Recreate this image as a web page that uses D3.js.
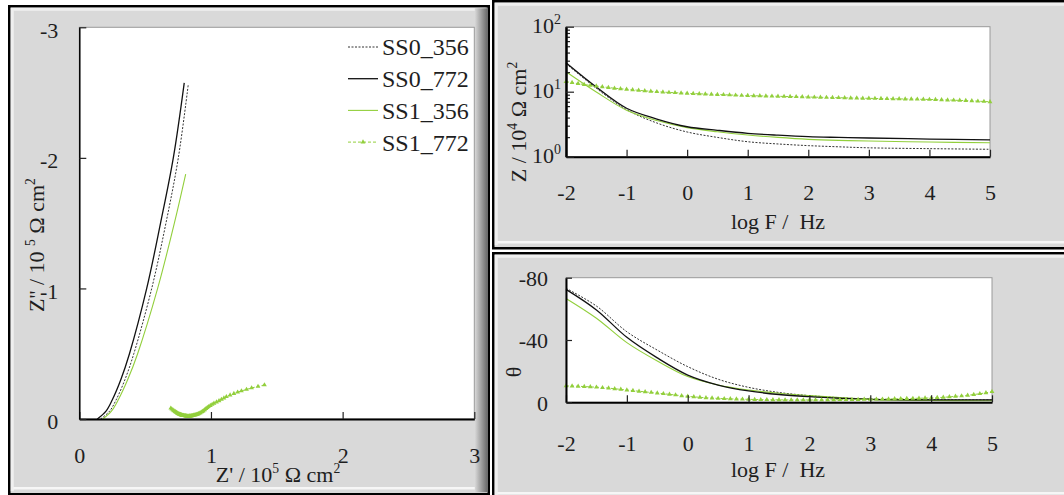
<!DOCTYPE html>
<html><head><meta charset="utf-8">
<script src="https://cdn.jsdelivr.net/npm/d3@7"></script>
<style>
body{margin:0;background:#fff}
svg{display:block;font-family:"Liberation Serif","Times New Roman",serif}
text{font-family:"Liberation Serif","Times New Roman",serif;fill:#1e1e1e}
</style>
</head><body>
<svg id="chart" width="1064" height="495"></svg>
<script>
// ---- data ----
const seriesNames = ["SS0_356", "SS0_772", "SS1_356", "SS1_772"];

// Nyquist data: [Z', Z''] in 1e5 Ω cm²
const nyqSS0_356 = [[0.162,0],[0.23,-0.06],[0.279,-0.145],[0.346,-0.3],[0.414,-0.5],[0.55,-1.0],[0.658,-1.5],[0.752,-2.0],[0.828,-2.565]];
const nyqSS0_772 = [[0.137,0],[0.203,-0.06],[0.25,-0.145],[0.315,-0.3],[0.381,-0.5],[0.512,-1.0],[0.617,-1.5],[0.714,-2.0],[0.797,-2.575]];
const nyqSS1_356 = [[0.178,0],[0.244,-0.06],[0.295,-0.145],[0.367,-0.3],[0.443,-0.5],[0.595,-1.0],[0.722,-1.5],[0.808,-1.876]];

// Bode data, coarse frequency grid (log F / Hz)
const logF = [-2,-1.5,-1,-0.5,0,0.5,1,1.5,2,2.5,3,4,5];
const zSS0_356 = [27.0,11.3,5.3,3.3,2.4,1.98,1.70,1.57,1.48,1.42,1.37,1.33,1.30];
const zSS0_772 = [27.9,11.8,5.56,3.8,2.89,2.55,2.29,2.14,2.03,1.98,1.94,1.87,1.81];
const zSS1_356 = [20.3,9.9,5.2,3.6,2.8,2.42,2.16,1.98,1.85,1.78,1.74,1.68,1.64];
const thSS0_356 = [-73.2,-61.8,-45.3,-33.5,-22.9,-14.8,-9.6,-6.3,-4.3,-3,-2.1,-1.6,-1.5];
const thSS0_772 = [-72.5,-59.3,-41.7,-28.5,-17.5,-11.1,-7.3,-5,-3.6,-2.6,-1.9,-1.6,-1.5];
const thSS1_356 = [-66.7,-54.0,-38.3,-26.5,-16.5,-11.1,-7.9,-5.8,-4.3,-3,-1.9,-1.2,-1.0];

// SS1_772 measured on a finer grid (one point per 0.1 decade)
const logF_SS1_772 = [-2.0,-1.9,-1.8,-1.7,-1.6,-1.5,-1.4,-1.3,-1.2,-1.1,-1.0,-0.9,-0.8,-0.7,-0.6,-0.5,-0.4,-0.3,-0.2,-0.1,
  0.0,0.1,0.2,0.3,0.4,0.5,0.6,0.7,0.8,0.9,1.0,1.1,1.2,1.3,1.4,1.5,1.6,1.7,1.8,1.9,
  2.0,2.1,2.2,2.3,2.4,2.5,2.6,2.7,2.8,2.9,3.0,3.1,3.2,3.3,3.4,3.5,3.6,3.7,3.8,3.9,
  4.0,4.1,4.2,4.3,4.4,4.5,4.6,4.7,4.8,4.9,5.0];
const zSS1_772 = [14.3,13.8,13.3,12.9,12.5,12.2,11.9,11.6,11.3,11.1,10.9,10.7,10.5,10.3,10.15,10.0,9.85,9.75,9.65,9.55,
  9.44,9.36,9.28,9.2,9.12,9.05,8.98,8.91,8.84,8.77,8.7,8.66,8.62,8.58,8.54,8.5,8.45,8.41,8.37,8.33,
  8.28,8.24,8.2,8.16,8.12,8.08,8.04,8.0,7.96,7.93,7.9,7.87,7.84,7.81,7.78,7.75,7.72,7.69,7.66,7.63,
  7.6,7.55,7.5,7.45,7.4,7.35,7.3,7.22,7.15,7.07,7.0];
const thSS1_772 = [-10.5,-10.4,-10.3,-10.1,-9.9,-9.7,-9.4,-9.1,-8.7,-8.3,-7.9,-7.5,-7.1,-6.7,-6.3,-5.9,-5.5,-5.1,-4.7,-4.2,
  -3.8,-3.5,-3.2,-2.9,-2.7,-2.5,-2.3,-2.2,-2.1,-2.0,-1.9,-1.8,-1.7,-1.7,-1.6,-1.6,-1.5,-1.5,-1.5,-1.5,
  -1.5,-1.5,-1.5,-1.6,-1.6,-1.7,-1.7,-1.8,-1.8,-1.9,-1.9,-2.0,-2.0,-2.1,-2.2,-2.3,-2.4,-2.5,-2.6,-2.7,
  -2.8,-3.0,-3.2,-3.5,-3.8,-4.1,-4.5,-5.0,-5.5,-6.1,-6.8];

// axis ticks
const nyqTicks = [0, 1, 2, 3];
const nyqYTicks = [0, -1, -2, -3];
const freqTicks = [-2, -1, 0, 1, 2, 3, 4, 5];
const zDecades = [0, 1, 2];
const thetaTicks = [0, -40, -80];

// ---- styles ----
const GREEN = "#92cf3c";
const FONT = '"Liberation Serif","Times New Roman",serif';
const style = {
  "SS0_356": {stroke: "#333", width: 1, dash: "2,1.5", marker: false},
  "SS0_772": {stroke: "#111", width: 1.3, dash: null, marker: false},
  "SS1_356": {stroke: GREEN, width: 1.1, dash: null, marker: false},
  "SS1_772": {stroke: GREEN, width: 1, dash: "3,2", marker: true}
};
const plain = d => String(d);   // "-3", "0", "1" ...

const svg = d3.select("#chart");
const defs = svg.append("defs");
const shade = defs.append("linearGradient").attr("id", "edgeShade").attr("x1", 0).attr("x2", 1);
shade.append("stop").attr("offset", 0).attr("stop-color", "#d9d9d9");
shade.append("stop").attr("offset", 1).attr("stop-color", "#6a6a6a");

// raised grey panel with dark frame
function panel(x, y, w, h, rightShade) {
  const g = svg.append("g");
  g.append("rect").attr("x", x).attr("y", y).attr("width", w).attr("height", h)
    .attr("fill", "#d9d9d9").attr("stroke", "#000").attr("stroke-width", 2.5);
  g.append("path").attr("d", `M${x+3},${y+h-3} V${y+3} H${x+w-3}`)
    .attr("fill", "none").attr("stroke", "#efefef").attr("stroke-width", 3);
  g.append("line").attr("x1", x+4).attr("x2", x+w-4).attr("y1", y+h-6).attr("y2", y+h-6)
    .attr("stroke", "#f6f6f6").attr("stroke-width", 2.5);
  if (rightShade) {
    g.append("rect").attr("x", x+w-14).attr("y", y+2).attr("width", 12.5).attr("height", h-4)
      .attr("fill", "url(#edgeShade)");
  }
}
panel(9.25, 6.25, 479.5, 488, true);
panel(493.25, 1.25, 575, 247, false);
panel(493.25, 253.25, 575, 246, false);

function plotFrame(x0, x1, y0, y1) {
  svg.append("rect").attr("x", x0).attr("y", y0).attr("width", x1 - x0).attr("height", y1 - y0)
    .attr("fill", "#fff").attr("stroke", "#9a9a9a").attr("stroke-width", 1);
}

// text with superscripts: parts = [[string, isSup], ...]
function rich(parent, x, y, parts, size, rotate) {
  const t = parent.append("text").attr("font-size", size).attr("text-anchor", "middle")
    .attr("font-family", FONT).attr("xml:space", "preserve")
    .attr("transform", `translate(${x},${y})` + (rotate ? " rotate(-90)" : ""));
  let up = false;
  parts.forEach(([s, sup]) => {
    const ts = t.append("tspan").text(s);
    if (sup && !up) { ts.attr("font-size", size * 0.62).attr("dy", -size * 0.4); up = true; }
    else if (sup) { ts.attr("font-size", size * 0.62); }
    else if (!sup && up) { ts.attr("dy", size * 0.4); up = false; }
  });
  return t;
}

function styleAxis(g, domainWidth) {
  g.attr("font-family", FONT);
  g.select(".domain").attr("stroke", "#000").attr("stroke-width", domainWidth);
  g.selectAll(".tick line").attr("stroke", "#222").attr("stroke-width", 1.2);
  g.selectAll("text").attr("font-family", FONT).attr("font-size", 22).attr("fill", "#1e1e1e");
}

function drawSeries(g, name, pts, curve, markerSize) {
  const st = style[name];
  const line = d3.line().x(d => d[0]).y(d => d[1]).curve(curve);
  g.append("path").attr("d", line(pts)).attr("fill", "none")
    .attr("stroke", st.stroke).attr("stroke-width", st.width)
    .attr("stroke-dasharray", st.dash);
  if (st.marker) {
    const sym = d3.symbol(d3.symbolTriangle, markerSize);
    g.selectAll(null).data(pts).join("path")
      .attr("transform", d => `translate(${d[0]},${d[1]})`)
      .attr("d", sym).attr("fill", st.stroke);
  }
}

// ================= Nyquist panel =================
{
  const x = d3.scaleLinear([0, 3], [79.3, 474.3]);
  const y = d3.scaleLinear([0, -3], [419, 27.3]);
  plotFrame(79.3, 474.3, 27.3, 419);
  const g = svg.append("g");
  const pos = {
    "SS0_356": nyqSS0_356,
    "SS0_772": nyqSS0_772,
    "SS1_356": nyqSS1_356,
    // Nyquist form of the SS1_772 spectrum (|Z| given in 1e4 Ω cm²)
    "SS1_772": zSS1_772.map((m, i) => {
      const r = thSS1_772[i] * Math.PI / 180;
      return [m / 10 * Math.cos(r), m / 10 * Math.sin(r)];
    })
  };
  seriesNames.forEach(n => {
    const pts = pos[n].map(d => [x(d[0]), y(d[1])]);
    drawSeries(g, n, pts, n === "SS1_772" ? d3.curveLinear : d3.curveCatmullRom, 10);
  });

  const ax = svg.append("g").attr("transform", "translate(0,419)")
    .call(d3.axisBottom(x).tickValues(nyqTicks).tickFormat(plain).tickSizeInner(-7).tickSizeOuter(0).tickPadding(28));
  styleAxis(ax, 2);
  const ay = svg.append("g").attr("transform", "translate(79.3,0)")
    .call(d3.axisLeft(y).tickValues(nyqYTicks).tickFormat(plain).tickSizeInner(-7).tickSizeOuter(0).tickPadding(21));
  styleAxis(ay, 1.5);
  ay.selectAll(".tick text").attr("dy", "0.45em");

  rich(svg, 278, 482, [["Z' / 10", false], ["5", true], [" Ω cm", false], ["2", true]], 22, false);
  rich(svg, 44, 245, [["Z'' / 10 ", false], ["5", true], [" Ω cm", false], ["2", true]], 22, true);

  // legend
  const lg = svg.append("g");
  seriesNames.forEach((n, i) => {
    const cy = 47 + i * 31.7;
    const st = style[n];
    lg.append("line").attr("x1", 348).attr("x2", 378).attr("y1", cy).attr("y2", cy)
      .attr("stroke", st.stroke).attr("stroke-width", st.width).attr("stroke-dasharray", st.dash);
    if (st.marker) {
      lg.append("path").attr("transform", `translate(363,${cy})`)
        .attr("d", d3.symbol(d3.symbolTriangle, 10)).attr("fill", st.stroke);
    }
    lg.append("text").attr("x", 382).attr("y", cy).attr("dy", "0.35em")
      .attr("font-family", FONT).attr("font-size", 24).text(n);
  });
}

// ================= |Z| vs frequency =================
{
  const x = d3.scaleLinear([-2, 5], [566, 990]);
  const y = d3.scaleLog([1, 100], [156.7, 26.7]);
  plotFrame(566, 990, 26.7, 156.7);
  const g = svg.append("g");
  const vals = {"SS0_356": zSS0_356, "SS0_772": zSS0_772, "SS1_356": zSS1_356};
  ["SS0_356", "SS1_356", "SS0_772"].forEach(n => {
    drawSeries(g, n, logF.map((f, i) => [x(f), y(vals[n][i])]), d3.curveCatmullRom, 10);
  });
  drawSeries(g, "SS1_772", logF_SS1_772.map((f, i) => [x(f), y(zSS1_772[i])]), d3.curveLinear, 10);

  const ax = svg.append("g").attr("transform", "translate(0,156.7)")
    .call(d3.axisBottom(x).tickValues(freqTicks).tickFormat(plain).tickSizeInner(-7).tickSizeOuter(0).tickPadding(28));
  styleAxis(ax, 2);
  // minor log ticks
  const minor = y.ticks().filter(v => ![1, 10, 100].includes(v));
  const ay = svg.append("g").attr("transform", "translate(566,0)")
    .call(d3.axisLeft(y).tickValues(minor).tickSizeInner(-4).tickSizeOuter(0).tickFormat(""));
  styleAxis(ay, 2);
  const ay2 = svg.append("g").attr("transform", "translate(566,0)")
    .call(d3.axisLeft(y).tickValues(zDecades.map(d => Math.pow(10, d))).tickSizeInner(-8).tickSizeOuter(0).tickFormat(""));
  styleAxis(ay2, 2);
  zDecades.forEach(d => {
    const t = svg.append("text").attr("x", 561).attr("y", y(Math.pow(10, d))).attr("dy", "0.3em")
      .attr("text-anchor", "end").attr("font-family", FONT).attr("font-size", 22);
    t.append("tspan").text("10");
    t.append("tspan").attr("font-size", 14).attr("dy", -9).text(d);
  });
  rich(svg, 778, 229, [["log F /  Hz", false]], 22, false);
  rich(svg, 526, 122, [["Z / 10", false], ["4", true], [" Ω cm", false], ["2", true]], 22, true);
}

// ================= phase vs frequency =================
{
  const x = d3.scaleLinear([-2, 5], [566, 992]);
  const y = d3.scaleLinear([0, -80], [402.3, 277.7]);
  plotFrame(566, 992, 277.7, 402.3);
  const g = svg.append("g");
  const vals = {"SS0_356": thSS0_356, "SS0_772": thSS0_772, "SS1_356": thSS1_356};
  ["SS0_356", "SS1_356", "SS0_772"].forEach(n => {
    drawSeries(g, n, logF.map((f, i) => [x(f), y(vals[n][i])]), d3.curveCatmullRom, 10);
  });
  drawSeries(g, "SS1_772", logF_SS1_772.map((f, i) => [x(f), y(thSS1_772[i])]), d3.curveLinear, 10);

  const ax = svg.append("g").attr("transform", "translate(0,402.3)")
    .call(d3.axisBottom(x).tickValues(freqTicks).tickFormat(plain).tickSizeInner(-7).tickSizeOuter(0).tickPadding(33));
  styleAxis(ax, 2);
  const ay = svg.append("g").attr("transform", "translate(566,0)")
    .call(d3.axisLeft(y).tickValues(thetaTicks).tickFormat(plain).tickSizeInner(-6).tickSizeOuter(0).tickPadding(18));
  styleAxis(ay, 2);
  ay.selectAll(".tick text").attr("dy", "0.35em");
  rich(svg, 778, 477, [["log F /  Hz", false]], 22, false);
  rich(svg, 521, 372, [["θ", false]], 22, true);
}
</script>
</body></html>
